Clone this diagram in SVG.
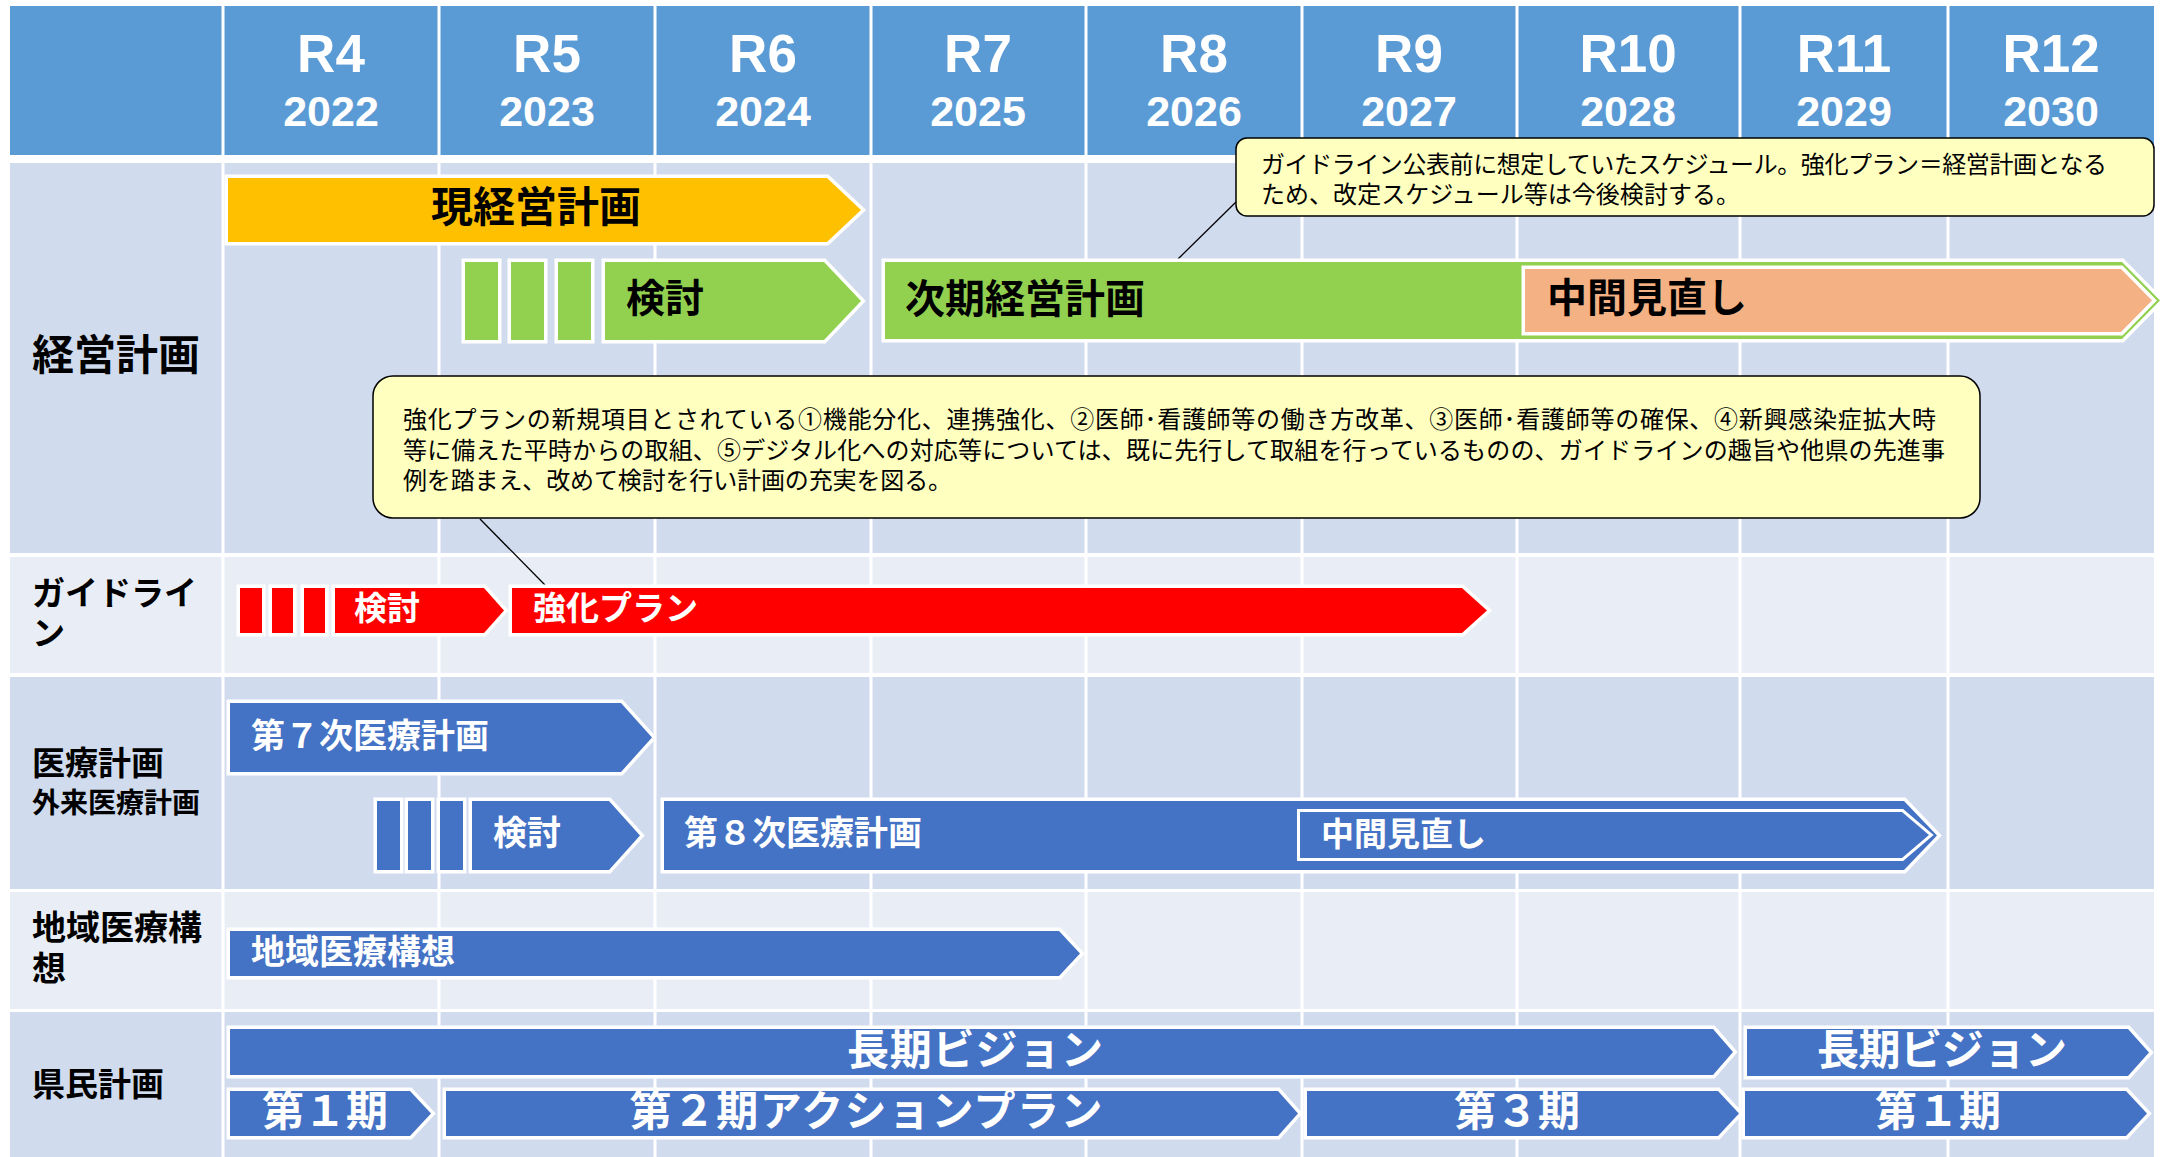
<svg xmlns="http://www.w3.org/2000/svg" width="2170" height="1157" viewBox="0 0 2170 1157">
<style>
.hdr{fill:#5B9BD5}
.dk{fill:#D0DBEE}
.lt{fill:#E9EEF6}
.vl{stroke:#FFFFFF;stroke-width:3}
.bar{stroke:#FFFFFF;stroke-width:7;paint-order:stroke;stroke-linejoin:miter}
.inner{stroke:#FFFFFF;stroke-width:6;paint-order:stroke;stroke-linejoin:miter}
.blue{fill:#4472C4}
.red{fill:#FF0000}
.grn{fill:#92D050}
.org{fill:#FFC000}
.peach{fill:#F4B183}
.call{fill:#FFFFC0;stroke:#000000;stroke-width:1.5}
.lead{stroke:#000000;stroke-width:1.3;fill:none}
.yr{font-family:"Liberation Sans","Noto Sans CJK JP",sans-serif;font-weight:bold;fill:#FFFFFF;text-anchor:middle}
.jp{font-family:"Noto Sans CJK JP","Noto Sans",sans-serif;font-weight:bold}
.lbl{fill:#000000}
.wt{fill:#FFFFFF}
.bk{fill:#000000}
.note{font-family:"Noto Sans CJK JP","Noto Sans",sans-serif;font-size:24px;fill:#000000}
</style>
<rect x="0" y="0" width="2170" height="1157" fill="#FFFFFF"/>

<g id="table">
  <rect class="hdr" x="10" y="6" width="2144" height="149"/>
  <rect class="dk" x="10" y="163" width="2144" height="390"/>
  <rect class="lt" x="10" y="557" width="2144" height="116"/>
  <rect class="dk" x="10" y="677" width="2144" height="212"/>
  <rect class="lt" x="10" y="892" width="2144" height="117"/>
  <rect class="dk" x="10" y="1012" width="2144" height="145"/>
  <g class="vl">
    <line x1="223" y1="6" x2="223" y2="1157"/>
    <line x1="439" y1="6" x2="439" y2="1157"/>
    <line x1="655" y1="6" x2="655" y2="1157"/>
    <line x1="871" y1="6" x2="871" y2="1157"/>
    <line x1="1086" y1="6" x2="1086" y2="1157"/>
    <line x1="1302" y1="6" x2="1302" y2="1157"/>
    <line x1="1517" y1="6" x2="1517" y2="1157"/>
    <line x1="1740" y1="6" x2="1740" y2="1157"/>
    <line x1="1948" y1="6" x2="1948" y2="1157"/>
  </g>
</g>

<g id="header-years">
  <g id="yR4"><text class="yr" x="331" y="72" font-size="53">R4</text><text class="yr" x="331" y="126" font-size="43">2022</text></g>
  <g id="yR5"><text class="yr" x="547" y="72" font-size="53">R5</text><text class="yr" x="547" y="126" font-size="43">2023</text></g>
  <g id="yR6"><text class="yr" x="763" y="72" font-size="53">R6</text><text class="yr" x="763" y="126" font-size="43">2024</text></g>
  <g id="yR7"><text class="yr" x="978" y="72" font-size="53">R7</text><text class="yr" x="978" y="126" font-size="43">2025</text></g>
  <g id="yR8"><text class="yr" x="1194" y="72" font-size="53">R8</text><text class="yr" x="1194" y="126" font-size="43">2026</text></g>
  <g id="yR9"><text class="yr" x="1409" y="72" font-size="53">R9</text><text class="yr" x="1409" y="126" font-size="43">2027</text></g>
  <g id="yR10"><text class="yr" x="1628" y="72" font-size="53">R10</text><text class="yr" x="1628" y="126" font-size="43">2028</text></g>
  <g id="yR11"><text class="yr" x="1844" y="72" font-size="53">R11</text><text class="yr" x="1844" y="126" font-size="43">2029</text></g>
  <g id="yR12"><text class="yr" x="2051" y="72" font-size="53">R12</text><text class="yr" x="2051" y="126" font-size="43">2030</text></g>
</g>

<g id="row-labels">
  <text id="lbl-keiei" class="jp lbl" x="32" y="370" font-size="42">経営計画</text>
  <text id="lbl-guide" class="jp lbl" font-size="33"><tspan x="32" y="605">ガイドライ</tspan><tspan x="32" y="645">ン</tspan></text>
  <g id="lbl-iryo"><text class="jp lbl" x="32" y="775" font-size="33">医療計画</text><text class="jp lbl" x="32" y="813" font-size="28">外来医療計画</text></g>
  <text id="lbl-chiiki" class="jp lbl" font-size="34"><tspan x="32" y="940">地域医療構</tspan><tspan x="32" y="981">想</tspan></text>
  <text id="lbl-kenmin" class="jp lbl" x="32" y="1096" font-size="33">県民計画</text>
</g>

<g id="connectors">
  <line class="lead" x1="1236" y1="202" x2="1178" y2="259"/>
  <line class="lead" x1="480" y1="519" x2="545" y2="585"/>
</g>

<!-- Row 1: 経営計画 -->
<g id="gen-keiei">
  <polygon class="bar org" points="228,178 827,178 861,210 827,242 228,242"/>
  <text class="jp bk" x="536" y="222" font-size="42" text-anchor="middle">現経営計画</text>
</g>
<g id="keiei-kento">
  <rect class="bar grn" x="465" y="262" width="33" height="78"/>
  <rect class="bar grn" x="511" y="262" width="33" height="78"/>
  <rect class="bar grn" x="558" y="262" width="33" height="78"/>
  <polygon class="bar grn" points="605,262 824,262 861,301 824,340 605,340"/>
  <text class="jp bk" x="626" y="312" font-size="39">検討</text>
</g>
<g id="jiki-keiei">
  <polygon class="bar grn" points="885,262 2122,262 2160,300.5 2122,339 885,339"/>
  <text class="jp bk" x="905" y="313" font-size="40">次期経営計画</text>
</g>
<g id="keiei-chukan">
  <polygon class="bar peach" points="1525,269 2121,269 2152,300.5 2121,332 1525,332"/>
  <text class="jp bk" x="1547" y="312" font-size="40">中間見直し</text>
</g>

<g id="callout-schedule">
  <rect class="call" x="1236" y="138" width="918" height="78" rx="11"/>
  <text class="note" x="1261" y="173" textLength="846">ガイドライン公表前に想定していたスケジュール。強化プラン＝経営計画となる</text>
  <text class="note" x="1261" y="203" textLength="479">ため、改定スケジュール等は今後検討する。</text>
</g>

<g id="callout-plan">
  <rect class="call" x="373" y="376" width="1607" height="142" rx="20"/>
  <text class="note" x="403" y="428" textLength="1533">強化プランの新規項目とされている①機能分化、連携強化、②医師･看護師等の働き方改革、③医師･看護師等の確保、④新興感染症拡大時</text>
  <text class="note" x="403" y="459" textLength="1542">等に備えた平時からの取組、⑤デジタル化への対応等については、既に先行して取組を行っているものの、ガイドラインの趣旨や他県の先進事</text>
  <text class="note" x="403" y="489" textLength="549">例を踏まえ、改めて検討を行い計画の充実を図る。</text>
</g>

<!-- Row 2: ガイドライン -->
<g id="guide-kento">
  <rect class="bar red" x="240" y="588" width="22" height="45"/>
  <rect class="bar red" x="272" y="588" width="21" height="45"/>
  <rect class="bar red" x="304" y="588" width="21" height="45"/>
  <polygon class="bar red" points="335,588 484,588 504,610.5 484,633 335,633"/>
  <text class="jp wt" x="354" y="620" font-size="33">検討</text>
</g>
<g id="kyoka-plan">
  <polygon class="bar red" points="512,588 1462,588 1487,610.5 1462,633 512,633"/>
  <text class="jp wt" x="533" y="620" font-size="33">強化プラン</text>
</g>

<!-- Row 3: 医療計画 -->
<g id="iryo7">
  <polygon class="bar blue" points="230,703 621,703 652,737.5 621,772 230,772"/>
  <text class="jp wt" x="251" y="748" font-size="34">第７次医療計画</text>
</g>
<g id="iryo-kento">
  <rect class="bar blue" x="377" y="801" width="23" height="69"/>
  <rect class="bar blue" x="408" y="801" width="23" height="69"/>
  <rect class="bar blue" x="440" y="801" width="23" height="69"/>
  <polygon class="bar blue" points="472,801 609,801 640,835.5 609,870 472,870"/>
  <text class="jp wt" x="493" y="845" font-size="34">検討</text>
</g>
<g id="iryo8">
  <polygon class="bar blue" points="664,801 1904,801 1937,835.5 1904,870 664,870"/>
  <text class="jp wt" x="684" y="845" font-size="34">第８次医療計画</text>
</g>
<g id="iryo-chukan">
  <polygon class="inner blue" points="1300,812 1902,812 1929,835 1902,858 1300,858"/>
  <text class="jp wt" x="1321" y="846" font-size="33">中間見直し</text>
</g>

<!-- Row 4: 地域医療構想 -->
<g id="chiiki">
  <polygon class="bar blue" points="230,931 1059,931 1080,953.5 1059,976 230,976"/>
  <text class="jp wt" x="251" y="964" font-size="34">地域医療構想</text>
</g>

<!-- Row 5: 県民計画 -->
<g id="vision1">
  <polygon class="bar blue" points="230,1029 1713,1029 1733,1052 1713,1075 230,1075"/>
  <text class="jp wt" x="975" y="1065" font-size="42" text-anchor="middle" textLength="256">長期ビジョン</text>
</g>
<g id="vision2">
  <polygon class="bar blue" points="1747,1029 2128,1029 2149,1052.5 2128,1076 1747,1076"/>
  <text class="jp wt" x="1942" y="1065" font-size="42" text-anchor="middle" textLength="250">長期ビジョン</text>
</g>
<g id="ki1">
  <polygon class="bar blue" points="230,1091 410,1091 431,1113.5 410,1136 230,1136"/>
  <text class="jp wt" x="325" y="1126" font-size="42" text-anchor="middle">第１期</text>
</g>
<g id="ki2">
  <polygon class="bar blue" points="446,1091 1278,1091 1298,1113.5 1278,1136 446,1136"/>
  <text class="jp wt" x="866" y="1126" font-size="42" text-anchor="middle" textLength="473">第２期アクションプラン</text>
</g>
<g id="ki3">
  <polygon class="bar blue" points="1307,1091 1718,1091 1739,1113.5 1718,1136 1307,1136"/>
  <text class="jp wt" x="1517" y="1126" font-size="42" text-anchor="middle">第３期</text>
</g>
<g id="ki1b">
  <polygon class="bar blue" points="1745,1091 2126,1091 2147,1113.5 2126,1136 1745,1136"/>
  <text class="jp wt" x="1938" y="1126" font-size="42" text-anchor="middle">第１期</text>
</g>
</svg>
